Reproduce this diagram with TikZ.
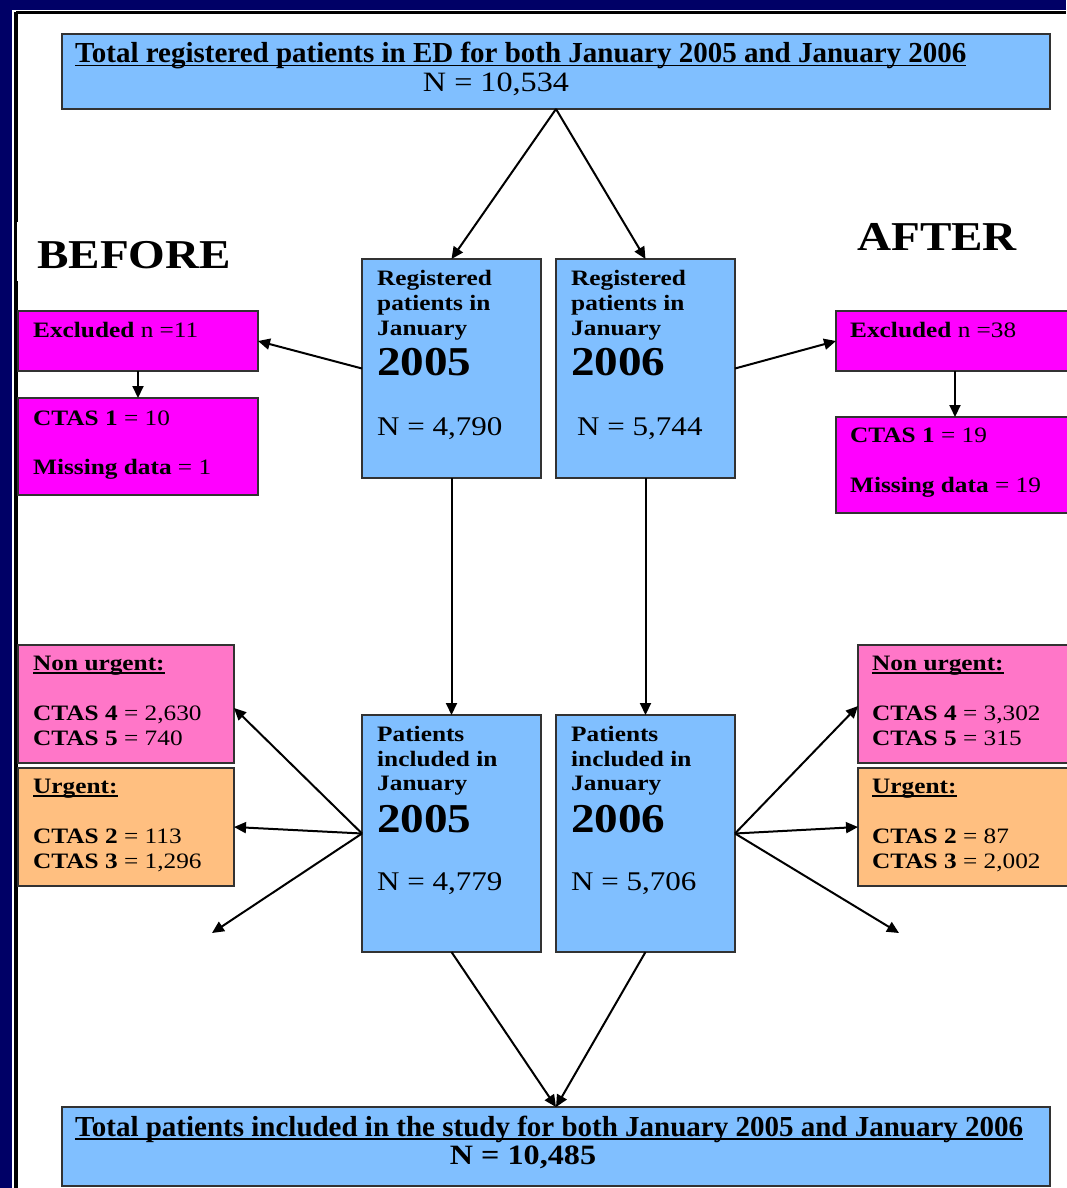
\documentclass[tikz,border=0pt]{standalone}
\usepackage{fontspec}
\setmainfont{Liberation Serif}
\newfontfamily\wideserif[FakeStretch=1.15]{Liberation Serif}
\usetikzlibrary{arrows.meta}
\definecolor{navy}{RGB}{0,0,102}
\definecolor{boxblue}{RGB}{128,191,255}
\definecolor{boxmag}{RGB}{255,0,255}
\definecolor{boxpink}{RGB}{255,118,200}
\definecolor{boxorange}{RGB}{255,191,128}
\definecolor{boxline}{RGB}{50,50,50}
\newcommand\myul[1]{\setbox0\hbox{#1}\rlap{\rule[-3.5pt]{\wd0}{1.8pt}}\box0}
\begin{document}
\begin{tikzpicture}[x=1pt,y=-1pt,
  box/.style={draw=boxline, line width=1.5pt, anchor=north west, inner sep=0pt, outer sep=0pt},
  arr/.style={-{Triangle[length=12pt,width=11pt]}, line width=2pt, black},
  lbl/.style={anchor=base west, inner sep=0pt, font=\wideserif\fontsize{22}{25}\selectfont},
  big/.style={anchor=base west, inner sep=0pt, font=\wideserif\bfseries\fontsize{41}{41}\selectfont},
  num/.style={anchor=base west, inner sep=0pt, font=\wideserif\fontsize{27}{27}\selectfont},
  ttl/.style={anchor=base west, inner sep=0pt, font=\bfseries\fontsize{29}{29}\selectfont},
  head/.style={anchor=base west, inner sep=0pt, font=\wideserif\bfseries\fontsize{41}{41}\selectfont}]
\useasboundingbox (0,0) rectangle (1066,1188);
% background and frame
\fill[navy] (0,0) rectangle (1066,1188);
\fill[white] (12,10) rectangle (1066,1188);
\draw[line width=3pt] (16,12.5) -- (1066,12.5);
\draw[line width=3.5pt] (16,12.5) -- (16,1188);
\fill[white] (17,222) rectangle (235,281);
% headings
\node[head] (before) at (37,268) {BEFORE};
\node[head] (after) at (857,250) {AFTER};
% top box
\node[box, fill=boxblue, minimum width=988pt, minimum height=75pt] (top) at (62,34) {};
\node[ttl] (toptitle) at (75,63) {\myul{Total registered patients in ED for both January 2005 and January 2006}};
\node[anchor=base, inner sep=0pt, font=\wideserif\fontsize{28}{28}\selectfont] (topn) at (496,92) {N = 10,534};
% registered boxes
\node[box, fill=boxblue, minimum width=179pt, minimum height=219pt] (reg05) at (362,259) {};
\node[lbl] (r05a) at (377,285) {\bfseries Registered};
\node[lbl] (r05b) at (377,310) {\bfseries patients in};
\node[lbl] (r05c) at (377,335) {\bfseries January};
\node[big] (r05d) at (377,375) {2005};
\node[num] (r05n) at (377,435) {N = 4,790};
\node[box, fill=boxblue, minimum width=179pt, minimum height=219pt] (reg06) at (556,259) {};
\node[lbl] (r06a) at (571,285) {\bfseries Registered};
\node[lbl] (r06b) at (571,310) {\bfseries patients in};
\node[lbl] (r06c) at (571,335) {\bfseries January};
\node[big] (r06d) at (571,375) {2006};
\node[num] (r06n) at (577,435) {N = 5,744};
% excluded boxes
\node[box, fill=boxmag, minimum width=240pt, minimum height=60pt] (exL) at (18,311) {};
\node[lbl] (exLt) at (33,337) {\textbf{Excluded} n =11};
\node[box, fill=boxmag, minimum width=240pt, minimum height=97pt] (ctL) at (18,398) {};
\node[lbl] (ctLa) at (33,425) {\textbf{CTAS 1} = 10};
\node[lbl] (ctLb) at (33,474) {\textbf{Missing data} = 1};
\node[box, fill=boxmag, minimum width=238pt, minimum height=60pt] (exR) at (836,311) {};
\node[lbl] (exRt) at (850,337) {\textbf{Excluded} n =38};
\node[box, fill=boxmag, minimum width=238pt, minimum height=96pt] (ctR) at (836,417) {};
\node[lbl] (ctRa) at (850,442) {\textbf{CTAS 1} = 19};
\node[lbl] (ctRb) at (850,492) {\textbf{Missing data} = 19};
% included boxes
\node[box, fill=boxblue, minimum width=179pt, minimum height=237pt] (inc05) at (362,715) {};
\node[lbl] (i05a) at (377,741) {\bfseries Patients};
\node[lbl] (i05b) at (377,766) {\bfseries included in};
\node[lbl] (i05c) at (377,790) {\bfseries January};
\node[big] (i05d) at (377,832) {2005};
\node[num] (i05n) at (377,890) {N = 4,779};
\node[box, fill=boxblue, minimum width=179pt, minimum height=237pt] (inc06) at (556,715) {};
\node[lbl] (i06a) at (571,741) {\bfseries Patients};
\node[lbl] (i06b) at (571,766) {\bfseries included in};
\node[lbl] (i06c) at (571,790) {\bfseries January};
\node[big] (i06d) at (571,832) {2006};
\node[num] (i06n) at (571,890) {N = 5,706};
% urgency boxes left
\node[box, fill=boxpink, minimum width=216pt, minimum height=118pt] (nuL) at (18,645) {};
\node[lbl] (nuLa) at (33,670) {\textbf{\myul{Non urgent:}}};
\node[lbl] (nuLb) at (33,720) {\textbf{CTAS 4} = 2,630};
\node[lbl] (nuLc) at (33,745) {\textbf{CTAS 5} = 740};
\node[box, fill=boxorange, minimum width=216pt, minimum height=118pt] (uL) at (18,768) {};
\node[lbl] (uLa) at (33,793) {\textbf{\myul{Urgent:}}};
\node[lbl] (uLb) at (33,843) {\textbf{CTAS 2} = 113};
\node[lbl] (uLc) at (33,868) {\textbf{CTAS 3} = 1,296};
% urgency boxes right
\node[box, fill=boxpink, minimum width=216pt, minimum height=118pt] (nuR) at (858,645) {};
\node[lbl] (nuRa) at (872,670) {\textbf{\myul{Non urgent:}}};
\node[lbl] (nuRb) at (872,720) {\textbf{CTAS 4} = 3,302};
\node[lbl] (nuRc) at (872,745) {\textbf{CTAS 5} = 315};
\node[box, fill=boxorange, minimum width=216pt, minimum height=118pt] (uR) at (858,768) {};
\node[lbl] (uRa) at (872,793) {\textbf{\myul{Urgent:}}};
\node[lbl] (uRb) at (872,843) {\textbf{CTAS 2} = 87};
\node[lbl] (uRc) at (872,868) {\textbf{CTAS 3} = 2,002};
% bottom box
\node[box, fill=boxblue, minimum width=988pt, minimum height=79pt] (bot) at (62,1107) {};
\node[ttl] (bottitle) at (75,1136) {\myul{Total patients included in the study for both January 2005 and January 2006}};
\node[anchor=base, inner sep=0pt, font=\wideserif\bfseries\fontsize{28}{28}\selectfont] (botn) at (523,1164) {N = 10,485};
% free ends
\coordinate (lfree) at (212,933);
\coordinate (rfree) at (899,933);
% connectors
\draw[arr] (top.south) -- (reg05.north);
\draw[arr] (top.south) -- (reg06.north);
\draw[arr] (reg05.west) -- (exL.east);
\draw[arr] (exL.south) -- (ctL.north);
\draw[arr] (reg06.east) -- (exR.west);
\draw[arr] (exR.south) -- (ctR.north);
\draw[arr] (reg05.south) -- (inc05.north);
\draw[arr] (reg06.south) -- (inc06.north);
\draw[arr] (inc05.west) -- ([yshift=-4pt]nuL.east);
\draw[arr] (inc05.west) -- (uL.east);
\draw[arr] (inc05.west) -- (lfree);
\draw[arr] (inc06.east) -- ([yshift=-2pt]nuR.west);
\draw[arr] (inc06.east) -- (uR.west);
\draw[arr] (inc06.east) -- (rfree);
\draw[arr] (inc05.south) -- (bot.north);
\draw[arr] (inc06.south) -- (bot.north);
\end{tikzpicture}
\end{document}
